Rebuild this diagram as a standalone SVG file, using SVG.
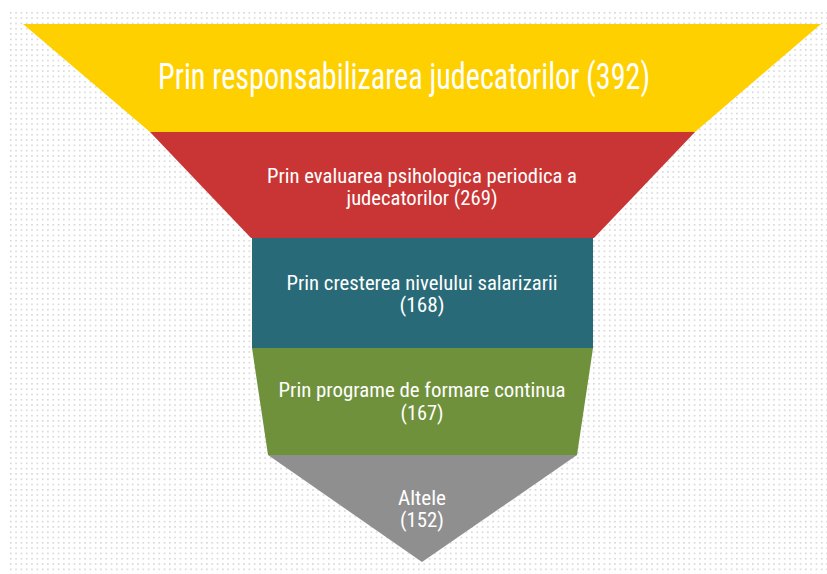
<svg xmlns="http://www.w3.org/2000/svg" width="827" height="574" viewBox="0 0 827 574">
<defs>
<pattern id="dots" x="10" y="12" width="5.3" height="5.3" patternUnits="userSpaceOnUse">
<rect x="0" y="0" width="1.6" height="1.6" fill="#d6d6d6"/>
</pattern>
<style>
text{font-family:"Liberation Sans Narrow","Roboto Condensed","Liberation Sans",sans-serif;fill:#ffffff;text-anchor:middle}
.big{font-size:36px}
.sm{font-size:21px}
</style>
</defs>
<rect width="827" height="574" fill="#ffffff"/>
<rect x="10" y="12" width="817" height="562" fill="url(#dots)"/>
<g id="level1">
<polygon points="23,24 821,24 695,132 150,132" fill="#FFD000"/>
<text class="big" x="404" y="89" textLength="492" lengthAdjust="spacingAndGlyphs">Prin responsabilizarea judecatorilor (392)</text>
</g>
<g id="level2">
<polygon points="150,132 695,132 594,238 251,238" fill="#C93535"/>
<text class="sm" x="422" y="183" textLength="310" lengthAdjust="spacingAndGlyphs">Prin evaluarea psihologica periodica a</text>
<text class="sm" x="422" y="205" textLength="151" lengthAdjust="spacingAndGlyphs">judecatorilor (269)</text>
</g>
<g id="level3">
<rect x="252" y="238" width="341" height="110" fill="#286A78"/>
<text class="sm" x="422" y="290" textLength="271" lengthAdjust="spacingAndGlyphs">Prin cresterea nivelului salarizarii</text>
<text class="sm" x="422" y="312" textLength="45" lengthAdjust="spacingAndGlyphs">(168)</text>
</g>
<g id="level4">
<polygon points="252,348 593,348 577,455 268,455" fill="#70913C"/>
<text class="sm" x="422" y="397" textLength="287" lengthAdjust="spacingAndGlyphs">Prin programe de formare continua</text>
<text class="sm" x="422" y="420" textLength="43" lengthAdjust="spacingAndGlyphs">(167)</text>
</g>
<g id="level5">
<polygon points="268,455 577,455 422,562" fill="#8F8F8F"/>
<text class="sm" x="422" y="505" textLength="48" lengthAdjust="spacingAndGlyphs">Altele</text>
<text class="sm" x="422" y="527" textLength="44" lengthAdjust="spacingAndGlyphs">(152)</text>
</g>
<g id="connectors"></g>
</svg>
